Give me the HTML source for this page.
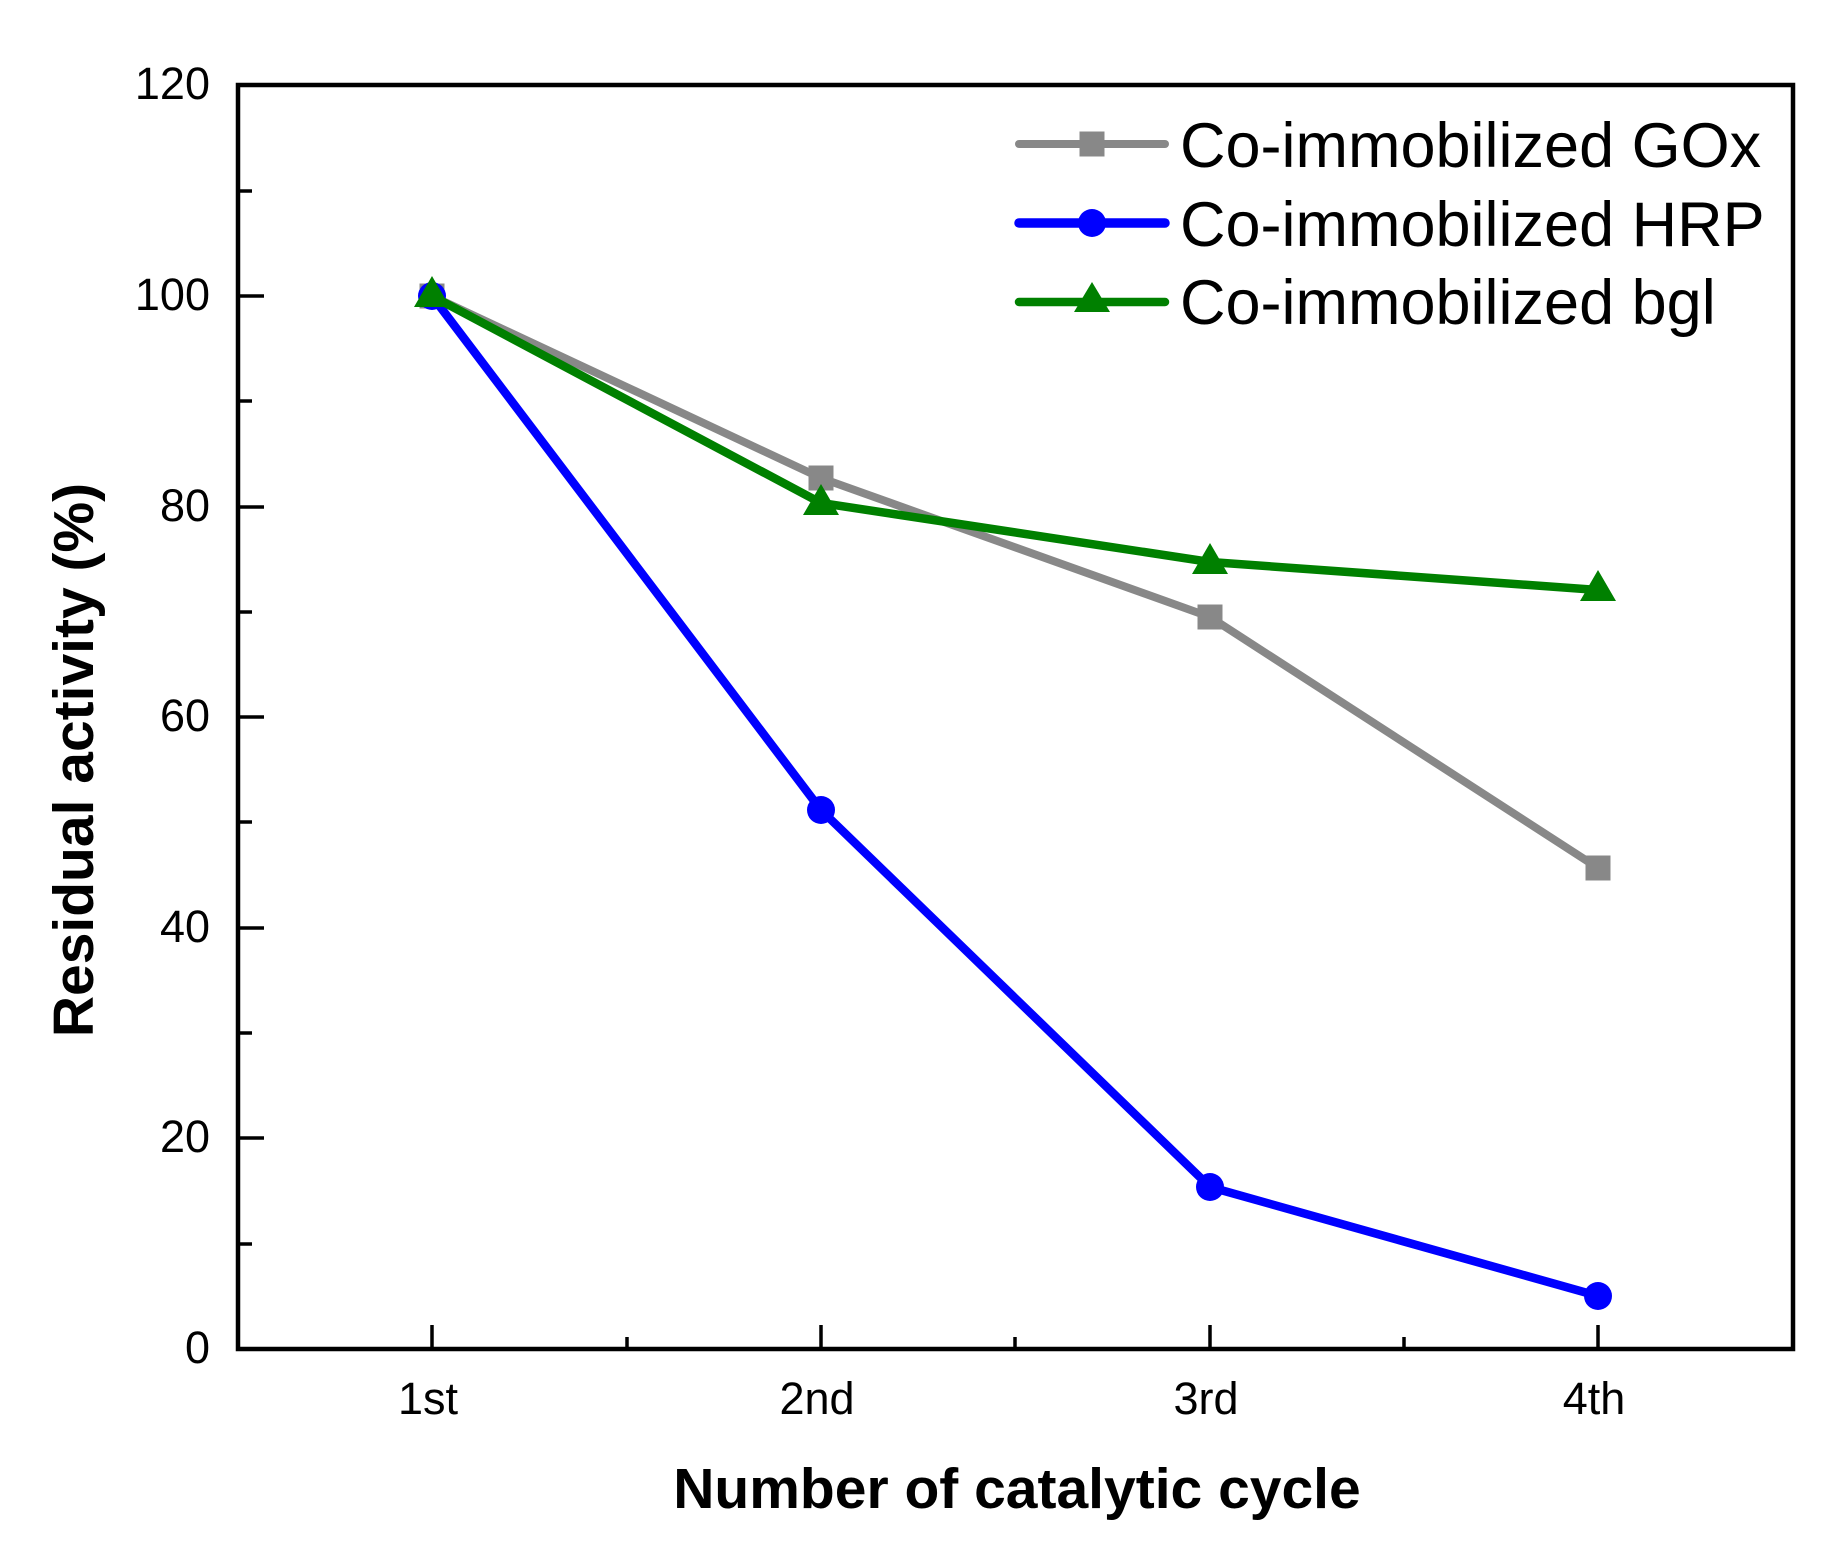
<!DOCTYPE html>
<html>
<head>
<meta charset="utf-8">
<style>
  html, body { margin: 0; padding: 0; background: #ffffff; }
  svg { display: block; }
  text { font-family: "Liberation Sans", Arial, sans-serif; fill: #000; }
</style>
</head>
<body>
<svg width="1838" height="1562" viewBox="0 0 1838 1562" xmlns="http://www.w3.org/2000/svg">
  <rect x="0" y="0" width="1838" height="1562" fill="#ffffff"/>

  <!-- Y ticks -->
  <g stroke="#000" stroke-width="3.5">
    <!-- major -->
    <line x1="238" y1="1349" x2="264" y2="1349"/>
    <line x1="238" y1="1138" x2="264" y2="1138"/>
    <line x1="238" y1="928" x2="264" y2="928"/>
    <line x1="238" y1="717" x2="264" y2="717"/>
    <line x1="238" y1="507" x2="264" y2="507"/>
    <line x1="238" y1="296" x2="264" y2="296"/>
    <!-- minor -->
    <line x1="238" y1="1244" x2="252" y2="1244"/>
    <line x1="238" y1="1033" x2="252" y2="1033"/>
    <line x1="238" y1="822" x2="252" y2="822"/>
    <line x1="238" y1="612" x2="252" y2="612"/>
    <line x1="238" y1="401" x2="252" y2="401"/>
    <line x1="238" y1="191" x2="252" y2="191"/>
    <!-- X major ticks -->
    <line x1="432" y1="1349" x2="432" y2="1325"/>
    <line x1="821" y1="1349" x2="821" y2="1325"/>
    <line x1="1210" y1="1349" x2="1210" y2="1325"/>
    <line x1="1598" y1="1349" x2="1598" y2="1325"/>
    <!-- X minor ticks -->
    <line x1="627" y1="1349" x2="627" y2="1337"/>
    <line x1="1015" y1="1349" x2="1015" y2="1337"/>
    <line x1="1404" y1="1349" x2="1404" y2="1337"/>
  </g>

  <!-- Axes box -->
  <rect x="238" y="85" width="1555" height="1264" fill="none" stroke="#000" stroke-width="4.5"/>

  <!-- Y tick labels -->
  <g font-size="45" text-anchor="end">
    <text x="210" y="1363">0</text>
    <text x="210" y="1152">20</text>
    <text x="210" y="942">40</text>
    <text x="210" y="731">60</text>
    <text x="210" y="521">80</text>
    <text x="210" y="310">100</text>
    <text x="210" y="99">120</text>
  </g>

  <!-- X tick labels -->
  <g font-size="45" text-anchor="middle">
    <text x="428" y="1414">1st</text>
    <text x="817" y="1414">2nd</text>
    <text x="1206" y="1414">3rd</text>
    <text x="1594" y="1414">4th</text>
  </g>

  <!-- Axis titles -->
  <text x="1017" y="1508" font-size="57" font-weight="bold" text-anchor="middle">Number of catalytic cycle</text>
  <text transform="translate(93,760) rotate(-90)" font-size="57" font-weight="bold" text-anchor="middle">Residual activity (%)</text>

  <!-- Series: GOx (gray squares) -->
  <polyline points="432,296 821,478 1210,617 1598,868" fill="none" stroke="#888888" stroke-width="8" stroke-linejoin="round"/>
  <g fill="#888888">
    <rect x="419.5" y="283.5" width="25" height="25"/>
    <rect x="808.5" y="465.5" width="25" height="25"/>
    <rect x="1197.5" y="604.5" width="25" height="25"/>
    <rect x="1585.5" y="855.5" width="25" height="25"/>
  </g>

  <!-- Series: HRP (blue circles) -->
  <polyline points="432,296 821,810 1210,1187 1598,1296" fill="none" stroke="#0000ff" stroke-width="8.5" stroke-linejoin="round"/>
  <g fill="#0000ff">
    <circle cx="432" cy="296" r="14"/>
    <circle cx="821" cy="810" r="14"/>
    <circle cx="1210" cy="1187" r="14"/>
    <circle cx="1598" cy="1296" r="14"/>
  </g>

  <!-- Series: bgl (green triangles) -->
  <polyline points="432,296 821,503 1210,562 1598,590" fill="none" stroke="#008000" stroke-width="8.5" stroke-linejoin="round"/>
  <g fill="#008000">
    <polygon points="432,276 414,307 450,307"/>
    <polygon points="821,484 803,515 839,515"/>
    <polygon points="1210,543 1192,574 1228,574"/>
    <polygon points="1598,570 1580,601 1616,601"/>
  </g>

  <!-- Legend -->
  <line x1="1019" y1="144" x2="1165" y2="144" stroke="#888888" stroke-width="8" stroke-linecap="round"/>
  <rect x="1079.5" y="131.5" width="25" height="25" fill="#888888"/>
  <line x1="1019" y1="223" x2="1165" y2="223" stroke="#0000ff" stroke-width="9.5" stroke-linecap="round"/>
  <circle cx="1092" cy="223" r="14" fill="#0000ff"/>
  <line x1="1019" y1="302" x2="1165" y2="302" stroke="#008000" stroke-width="8.5" stroke-linecap="round"/>
  <polygon points="1092,282 1074,312 1110,312" fill="#008000"/>

  <g font-size="63">
    <text x="1180" y="167">Co-immobilized GOx</text>
    <text x="1180" y="246">Co-immobilized HRP</text>
    <text x="1180" y="324">Co-immobilized bgl</text>
  </g>
</svg>
</body>
</html>
